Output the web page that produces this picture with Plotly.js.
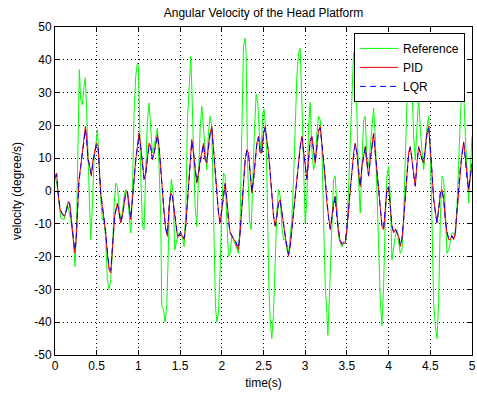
<!DOCTYPE html>
<html>
<head>
<meta charset="utf-8">
<script src="https://cdn.plot.ly/plotly-3.0.1.min.js"></script>
<style>html,body{margin:0;padding:0;background:#fff;}#chart{width:477px;height:394px;}</style>
</head>
<body>
<div id="chart"></div>
<script>
// Reference signal (time in s, velocity in degree/s)
var tRef = [0,0.028,0.068,0.108,0.148,0.188,0.22,0.24,0.26,0.276,0.292,0.308,0.328,0.348,0.364,0.38,0.396,0.412,0.428,0.448,0.468,0.488,0.508,0.528,0.548,0.568,0.588,0.608,0.628,0.648,0.668,0.688,0.708,0.728,0.748,0.768,0.788,0.808,0.828,0.848,0.868,0.888,0.908,0.928,0.948,0.968,0.988,1.0,1.012,1.028,1.048,1.068,1.088,1.108,1.128,1.148,1.168,1.188,1.208,1.228,1.248,1.268,1.28,1.30,1.32,1.34,1.356,1.372,1.396,1.416,1.436,1.46,1.48,1.508,1.532,1.548,1.568,1.588,1.608,1.628,
1.64,1.66,1.68,1.70,1.72,1.74,1.76,1.78,1.80,1.82,1.84,1.86,1.88,1.90,1.912,1.924,1.94,1.96,1.98,2.00,2.02,2.04,2.06,2.08,2.10,2.12,2.14,2.18,2.20,2.22,2.24,2.26,2.28,2.292,2.308,2.332,2.352,2.372,2.392,2.412,2.432,2.452,2.472,2.492,2.508,2.532,2.548,2.564,2.58,2.60,2.62,2.64,2.66,2.68,2.70,2.72,2.74,2.76,2.78,2.80,2.82,2.84,2.86,2.88,2.90,2.92,2.94,2.96,2.98,3.00,3.02,3.04,3.06,3.08,3.10,3.12,3.14,3.16,3.18,3.20,3.22,3.24,3.26,3.272,3.292,3.32,3.34,3.36,
3.38,3.40,3.42,3.44,3.46,3.48,3.50,3.52,3.54,3.56,3.58,3.60,3.62,3.64,3.66,3.68,3.70,3.72,3.74,3.76,3.78,3.80,3.82,3.84,3.86,3.88,3.90,3.92,3.94,3.96,3.98,4.00,4.02,4.04,4.06,4.08,4.10,4.12,4.14,4.16,4.18,4.20,4.22,4.24,4.26,4.28,4.30,4.32,4.34,4.36,4.38,4.40,4.42,4.44,4.46,4.48,4.50,4.52,4.54,4.56,4.58,4.60,4.62,4.64,4.66,4.68,4.70,4.72,4.74,4.76,4.78,4.80,4.82,4.84,4.86,4.88,4.90,4.92,4.94,4.96,4.98,5.00];
var reference = [4.5,1.4,-8.2,-8.7,-4,-8.7,-14.8,-23,-8.7,21.7,37,27.8,26.3,32,34.5,23.8,11.6,-4.7,-14.8,-4.7,9.5,13.6,18.7,9.5,-2.6,-8.7,-8.7,-14.8,-27,-30,-27,-19,-4.7,2.4,1.4,-4.7,-8.7,-6.7,-1.6,0.4,-0.6,-6.7,-12.8,-0.6,23.8,35,39,38,17.7,5.5,-10.8,-11.8,6.5,21.7,26.8,19.7,11.6,13.6,16.7,19.2,7.5,-8.7,-35,-36,-40,-35,-21,-4.7,3.5,-0.6,-18,-14.8,-12.8,-12.8,-14.8,-17,-6.7,21.7,34,41,
32,11.6,-4.7,-10.8,6.5,18.7,25.8,18.7,11.6,6.5,17.7,22.8,19.7,-8.7,-23,-35,-40,-37,-24,-4.7,5.5,4.5,-8.7,-20,-19,-13.8,-14.8,-17.9,-19,-8.7,21.7,44,46.6,42,9.5,-8.7,-11.8,6.5,18.7,29.5,26.8,16.7,11.6,23.8,24.8,16.7,-8.7,-29,-39,-45,-37,-19,-6.7,0.4,-1.6,-10.8,-14.8,-14.8,-17.9,-19,-14.8,-8.7,3.5,21.7,35,42,43.5,26.8,5.5,-9.8,-2.6,19.7,27,12.6,6.5,8.5,17.7,22.8,21.7,13.6,-8.7,-29,-37,-44,-31,-8.7,3.5,4.5,
-4.7,-13.8,-16,-17,-16,-16,-12.8,1.4,16.7,32,42,43,19.7,3.5,-6.7,9.5,21.7,22.8,9.5,7.5,13.6,21.7,25.3,16.7,1.4,-19,-33,-41,-29,-8.7,4.5,7.5,-1.6,-21,-17,-13.8,-11.8,-14.8,-19,-18,-8.7,9.5,26.8,45,48,32,16.7,9.5,21.7,28.9,18.7,11.6,6.5,11.6,19.7,22.8,11.6,-8.7,-34,-41,-45,-34,-8.7,4.5,3.5,-5.7,-19,-18,-14.8,-12.8,-12.8,-13.8,-4.7,11.6,21.7,32,31,16.7,4.5,-3.7,6.5,16.7];

// Controller responses
var tCtl = [0,0.02,0.036,0.06,0.088,0.116,0.14,0.16,0.176,0.196,0.216,0.236,0.252,0.268,0.288,0.308,0.328,0.348,0.364,0.38,0.396,0.416,0.436,0.456,0.476,0.496,0.516,0.532,0.548,0.568,0.588,0.608,0.628,0.648,0.668,0.684,0.70,0.716,0.732,0.748,0.768,0.788,0.808,0.828,0.848,0.868,0.888,0.908,0.928,0.948,0.968,0.988,1.008,1.028,1.048,1.068,1.088,1.108,1.128,1.148,1.168,1.188,1.208,1.228,1.248,1.268,1.288,1.308,1.328,1.348,1.368,1.388,1.408,1.428,1.448,1.468,1.488,1.508,1.528,1.548,1.568,1.588,1.608,1.628,
1.64,1.66,1.68,1.70,1.72,1.74,1.76,1.78,1.80,1.82,1.84,1.86,1.88,1.90,1.92,1.94,1.96,1.98,2.00,2.02,2.04,2.06,2.08,2.10,2.12,2.14,2.16,2.18,2.20,2.22,2.24,2.26,2.28,2.30,2.32,2.34,2.36,2.38,2.40,2.42,2.44,2.46,2.48,2.50,2.52,2.54,2.56,2.58,2.60,2.62,2.64,2.66,2.68,2.70,2.72,2.74,2.76,2.78,2.80,2.82,2.84,2.86,2.88,2.90,2.92,2.94,2.96,2.98,3.00,3.02,3.04,3.06,3.08,3.10,3.12,3.14,3.16,3.18,3.20,3.22,3.24,3.26,3.28,3.30,3.32,3.34,3.36,
3.38,3.40,3.42,3.44,3.46,3.48,3.50,3.52,3.54,3.56,3.58,3.60,3.62,3.64,3.66,3.68,3.70,3.72,3.74,3.76,3.78,3.80,3.82,3.84,3.86,3.88,3.90,3.92,3.94,3.96,3.98,4.00,4.02,4.04,4.06,4.08,4.10,4.12,4.14,4.16,4.18,4.20,4.22,4.24,4.26,4.28,4.30,4.32,4.34,4.36,4.38,4.40,4.42,4.44,4.46,4.48,4.50,4.52,4.54,4.56,4.58,4.60,4.62,4.64,4.66,4.68,4.70,4.72,4.74,4.76,4.78,4.80,4.82,4.84,4.86,4.88,4.90,4.92,4.94,4.96,4.98,5.00];
var pid = [4.5,5.5,-0.6,-5.7,-7.2,-7.7,-5.7,-3.2,-3.7,-8.7,-13.8,-18.9,-15.8,-5.7,3.5,7.5,11.6,15.7,19.7,15.7,9.5,7.5,4.5,9.5,11.6,14.6,13.6,6.5,-0.6,-4.7,-8.7,-12.8,-18.9,-24,-25,-18.9,-12.8,-7.7,-5.7,-3.7,-6.7,-9.8,-7.7,-4.7,-0.6,-0.1,-4.7,-8.7,-2.6,4.5,9.5,13.6,17.7,13.6,7.5,3.5,5.5,10.6,14.6,13.6,9.5,11.6,14.6,17.2,13.6,6.5,-1.6,-6.7,-11.8,-13.8,-4.7,-0.6,-1.6,-5.7,-10.8,-13.8,-13.8,-12.8,-13.8,-14.8,-10.8,-2.6,5.5,10.6,
15.7,11.6,7.5,2.4,5.5,9.5,11.6,14.6,9.5,8.5,13.6,17.7,19.7,12.6,5.5,-1.6,-6.7,-9.8,-4.7,-1.6,2.4,-2.6,-9.8,-12.8,-13.8,-14.8,-15.3,-16.9,-17.9,-12.8,-4.7,3.5,9.5,12.6,11.6,5.5,-0.6,3.5,9.5,14.6,16.7,11.6,11.6,17.7,19.7,15.7,11.6,5.5,-1.6,-7.7,-10.8,-7.7,-3.7,-2.6,-6.7,-10.8,-13.8,-16.9,-19.9,-16.9,-11.8,-6.7,-0.6,5.5,9.5,13.6,16.7,11.6,6.5,3.5,9.5,15.7,16.7,11.6,8.5,13.6,18.7,19.7,14.6,9.5,3.5,-3.7,-8.7,-11.8,-7.7,-3.7,-1.6,
-8.7,-12.8,-15.3,-16.4,-15.9,-15.9,-11.8,-5.7,1.4,6.5,11.6,14.6,11.6,5.5,1.4,7.5,10.6,13.6,8.5,4.5,9.5,14.6,17.7,11.6,5.5,-0.6,-6.7,-10.8,-11.8,-5.7,0.4,1.4,-4.7,-10.8,-12.8,-11.8,-12.8,-13.8,-16.9,-14.8,-8.7,-1.6,5.5,11.6,13.6,9.5,4.5,1.4,8.5,13.6,11.6,9.5,8.5,13.6,17.7,19.7,13.6,5.5,-2.6,-6.7,-9.8,-5.7,-0.6,0.4,-2.6,-8.7,-12.8,-14.8,-14.8,-13.8,-14.8,-12.8,-6.7,1.4,7.5,11.6,15,9.5,3.5,0.4,4.5,8.5];
var lqr = [4,5,-0.2,-5.2,-7,-7.5,-5.5,-3.5,-4,-8.5,-13.5,-18,-15.5,-6,3,7.2,11.2,15.2,18.8,15.5,9.8,7.8,5,9.2,11.2,14.2,13.2,6.8,-0.2,-4.5,-8.5,-12.5,-18.5,-23.2,-24.2,-18.5,-12.5,-7.5,-5.5,-3.9,-6.5,-9.5,-7.5,-4.5,-0.8,-0.3,-4.5,-8.2,-2.8,4.2,9.2,13.2,17.2,13.5,7.8,3.8,5.2,10.2,14.2,13.2,9.8,11.4,14.2,16.8,13.5,6.8,-1.2,-6.5,-11.5,-13.2,-5,-0.8,-1.5,-5.5,-10.5,-13.5,-13.5,-12.6,-13.5,-14.4,-10.5,-2.8,5.2,10.2,
15.2,11.8,7.8,2.8,5.2,9.2,11.4,14.2,9.8,8.8,13.2,17.2,19,12.8,5.8,-1.2,-6.5,-9.4,-5,-1.8,2,-2.4,-9.5,-12.5,-13.6,-14.5,-15,-16.5,-17.4,-12.5,-4.9,3.2,9.2,12.2,11.4,5.8,-0.3,3.2,9.2,14.2,16.3,11.8,11.4,17.2,19.2,15.5,11.8,5.8,-1.2,-7.4,-10.5,-7.9,-3.9,-2.8,-6.5,-10.5,-13.5,-16.5,-19.4,-16.6,-11.6,-6.5,-0.8,5.2,9.2,13.2,16.2,11.8,6.8,3.8,9.2,15.2,16.3,11.8,8.8,13.2,18.2,19.2,14.8,9.8,3.8,-3.4,-8.4,-11.4,-7.9,-3.9,-1.8,
-8.4,-12.5,-15,-16,-15.6,-15.6,-11.6,-5.9,1.1,6.2,11.2,14.2,11.8,5.8,1.6,7.2,10.4,13.2,8.8,4.8,9.2,14.2,17.2,11.8,5.8,-0.4,-6.4,-10.4,-11.5,-5.9,0.2,1.2,-4.5,-10.5,-12.5,-11.6,-12.6,-13.5,-16.4,-14.6,-8.9,-1.8,5.2,11.2,13.2,9.8,4.8,1.6,8.2,13.2,11.8,9.8,8.8,13.2,17.2,19.2,13.8,5.8,-2.4,-6.4,-9.5,-5.9,-0.8,0.2,-2.4,-8.4,-12.5,-14.4,-14.5,-13.6,-14.5,-12.6,-6.9,1.1,7.2,11.2,14.6,9.8,3.8,0.6,4.2,8.2];

var xTicks = [0,0.5,1,1.5,2,2.5,3,3.5,4,4.5,5];
var xTickText = ['0','0.5','1','1.5','2','2.5','3','3.5','4','4.5','5'];
var yTicks = [-50,-40,-30,-20,-10,0,10,20,30,40,50];
var yTickText = ['-50','-40','-30','-20','-10','0','10','20','30','40','50'];

var FONT = 'Liberation Sans, Arial, Helvetica, sans-serif';

var traces = [
  {x: tRef, y: reference, type: 'scatter', mode: 'lines', name: 'Reference',
   line: {color: '#00ff00', width: 1}},
  {x: tCtl, y: pid, type: 'scatter', mode: 'lines', name: 'PID',
   line: {color: '#ff0000', width: 1}},
  {x: tCtl, y: lqr, type: 'scatter', mode: 'lines', name: 'LQR',
   line: {color: '#0000ff', width: 1, dash: '6px,4px'}}
];

var axisCommon = {
  showline: true, linecolor: '#000', linewidth: 1, mirror: 'ticks',
  ticks: 'inside', ticklen: 5, tickcolor: '#000', tickwidth: 1,
  showgrid: true, gridcolor: '#000', gridwidth: 1, griddash: '1px,3px',
  zeroline: false, tickfont: {family: FONT, size: 12, color: '#000'}
};

var layout = {
  width: 477, height: 394,
  margin: {l: 55, r: 5, t: 27, b: 39, pad: 0},
  paper_bgcolor: '#fff', plot_bgcolor: '#fff',
  font: {family: FONT, size: 12, color: '#000'},
  title: {text: 'Angular Velocity of the Head Platform', font: {family: FONT, size: 12, color: '#000'},
          x: 0.5, xref: 'paper', xanchor: 'center', y: 1 - 13/394, yref: 'container', yanchor: 'middle'},
  xaxis: Object.assign({}, axisCommon, {range: [0, 5], tickmode: 'array', tickvals: xTicks, ticktext: xTickText,
          title: {text: 'time(s)', font: {family: FONT, size: 12, color: '#000'}, standoff: 6}}),
  yaxis: Object.assign({}, axisCommon, {range: [-50, 50], tickmode: 'array', tickvals: yTicks, ticktext: yTickText,
          title: {text: 'velocity (degree/s)', font: {family: FONT, size: 12, color: '#000'}, standoff: 10}}),
  showlegend: true,
  legend: {x: 0.717, y: 0.982, xanchor: 'left', yanchor: 'top', bgcolor: '#fff', bordercolor: '#000', borderwidth: 1,
           font: {family: FONT, size: 12, color: '#000'}, tracegroupgap: 0, itemwidth: 38}
};

Plotly.newPlot('chart', traces, layout, {displayModeBar: false, staticPlot: true});
</script>
</body>
</html>
